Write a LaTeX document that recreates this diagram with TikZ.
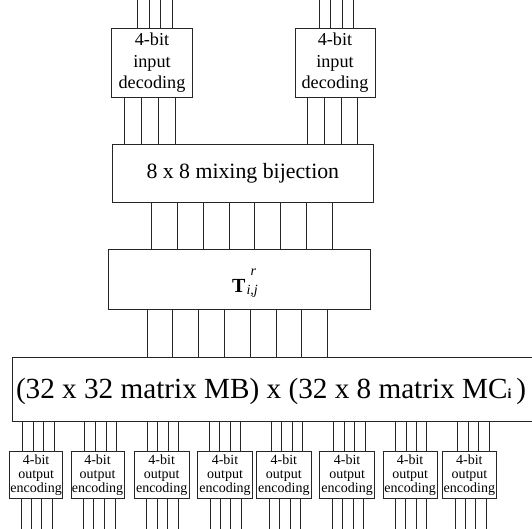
\documentclass[tikz,border=0pt]{standalone}
\usepackage{fontspec}
\setmainfont{Liberation Serif}
\begin{document}
\begin{tikzpicture}[x=1pt,y=-1pt,
  box/.style={draw=black!85, line width=0.8pt, inner sep=0pt, align=center},
  wire/.style={draw=black!85, line width=0.8pt},
  decbox/.style={box, minimum width=80.6pt, minimum height=69.7pt,
    font=\fontsize{18.2}{21.2}\selectfont},
  encbox/.style={box, minimum height=47.7pt,
    font=\fontsize{14}{14.2}\selectfont},
]
\useasboundingbox (0,0) rectangle (532,529);

% free ends at the top and bottom edges
\coordinate (top) at (0,0);
\coordinate (bottom) at (0,529);

% input decodings
\node[decbox] (dl) at (152,62.85) {4-bit\\input\\decoding};
\node[decbox, minimum width=80pt] (dr) at (335,62.85) {4-bit\\input\\decoding};

% mixing bijection
\node[box, minimum width=261pt, minimum height=58.7pt,
  font=\fontsize{21.8}{24}\selectfont] (mix) at (242.8,173.35) {8 x 8 mixing bijection};

% T box
\node[box, minimum width=262.4pt, minimum height=60.3pt] (T) at (239.5,279.15) {};
\node[inner sep=0pt] (tlab) at (245,283)
  {{\fontsize{20}{20}\selectfont\bfseries T}\hspace{1pt}%
   \makebox[0pt][l]{\hspace{4pt}\raisebox{17pt}{\fontsize{14}{14}\selectfont\itshape r}}%
   \raisebox{-2pt}{\fontsize{14}{14}\selectfont\itshape i,j}};

% MB x MC box (runs past the right edge)
\node[box, minimum width=528pt, minimum height=64.4pt] (mb) at (276,389.5) {};
\node[font=\fontsize{29.2}{32}\selectfont, inner sep=0pt] (mblab) at (271,391)
  {(32 x 32 matrix MB) x (32 x 8 matrix MC{\fontsize{14}{14}\selectfont\bfseries i}\,)};

% output encodings
\foreach \i/\c/\w in {1/36.15/53.3, 2/97.5/53, 3/161.7/54.6, 4/225/55,
                      5/283.85/54.7, 6/347.15/54.9, 7/410.15/54.3, 8/469.4/54.8}
  \node[encbox, minimum width=\w pt] (o\i) at (\c,474.85) {4-bit\\output\\encoding};

% wires into the decodings
\foreach \x in {137.3,149,160.7,172}
  \draw[wire] (top -| \x,0) -- (dl.north -| \x,0);
\foreach \x in {319,330.7,342,353.3}
  \draw[wire] (top -| \x,0) -- (dr.north -| \x,0);

% decodings to mixing bijection
\foreach \x in {124.3,141.3,158.3,175}
  \draw[wire] (dl.south -| \x,0) -- (mix.north -| \x,0);
\foreach \x in {307.7,324.3,341,357.7}
  \draw[wire] (dr.south -| \x,0) -- (mix.north -| \x,0);

% mixing bijection to T
\foreach \x in {151.7,177.7,203.3,229,254.7,280.7,306.7,332.3}
  \draw[wire] (mix.south -| \x,0) -- (T.north -| \x,0);

% T to MB x MC
\foreach \x in {147.3,172.7,198.3,224.3,250,276,301.7,327.7}
  \draw[wire] (T.south -| \x,0) -- (mb.north -| \x,0);

% MB x MC to output encodings
\foreach \i/\xs in {1/{22.4,32.9,43.4,54}, 2/{84.5,95.4,105.9,116.4},
                    3/{146.9,157.8,168.3,178.8}, 4/{209,219.5,230,240.6},
                    5/{271.1,281.6,292.2,302.7}, 6/{333.2,344.1,354.6,365.1},
                    7/{395.5,406,416.4,426.8}, 8/{457.7,468.3,478.7,489.2}}
  \foreach \x in \xs
    \draw[wire] (mb.south -| \x,0) -- (o\i.north -| \x,0);

% output wires to the bottom edge
\foreach \i/\xs in {1/{21,31.3,41.7,52}, 2/{83.3,93.7,104.3,115},
                    3/{146.7,157.3,167.7,178}, 4/{210,220.3,230.7,241},
                    5/{269.3,279.7,290,300.3}, 6/{332.3,342.7,353.3,363.7},
                    7/{395,405.7,416,426.3}, 8/{455,465.3,475.7,486}}
  \foreach \x in \xs
    \draw[wire] (o\i.south -| \x,0) -- (bottom -| \x,0);
\end{tikzpicture}
\end{document}
